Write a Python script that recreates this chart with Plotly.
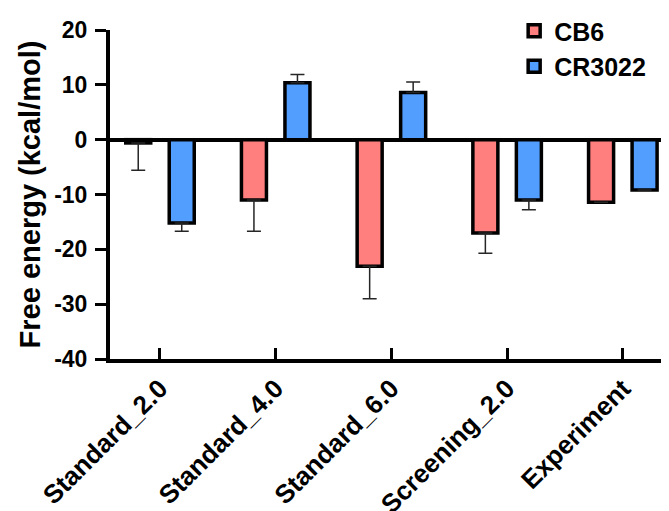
import plotly.graph_objects as go

categories = ["Standard_2.0", "Standard_4.0", "Standard_6.0", "Screening_2.0", "Experiment"]
cb6_values = [-0.6, -11.0, -23.1, -17.0, -11.4]
cb6_err = [5.0, 5.7, 5.9, 3.7, None]
cr3022_values = [-15.2, 10.4, 8.6, -11.0, -9.2]
cr3022_err = [1.5, 1.5, 1.9, 1.8, None]
y_ticks = [20, 10, 0, -10, -20, -30, -40]
y_ticktext = [str(v) for v in y_ticks]

FONT = "Arial, Liberation Sans, sans-serif"


def one_sided(values, errs):
    up, down = [], []
    for v, e in zip(values, errs):
        if e is None:
            up.append(None)
            down.append(None)
        elif v >= 0:
            up.append(e)
            down.append(0)
        else:
            up.append(0)
            down.append(e)
    return up, down


fig = go.Figure()
for name, vals, errs, color in [
    ("CB6", cb6_values, cb6_err, "#FF7F7F"),
    ("CR3022", cr3022_values, cr3022_err, "#529EFF"),
]:
    up, down = one_sided(vals, errs)
    fig.add_trace(go.Bar(
        name=name, x=categories, y=vals,
        marker=dict(color=color, line=dict(color="black", width=3.5)),
        error_y=dict(type="data", symmetric=False, array=up, arrayminus=down,
                     color="#262626", thickness=1.5, width=7),
    ))

# page body has an 8px default margin, so the figure is 8px smaller
fig.update_layout(
    width=661, height=503,
    margin=dict(l=102, r=0, t=15, b=152),
    paper_bgcolor="white", plot_bgcolor="white",
    barmode="group", bargap=0.248, bargroupgap=0.425,
    font=dict(family=FONT, color="black", weight="bold"),
    showlegend=True,
    legend=dict(x=0.723, y=1.068, xanchor="left", yanchor="top",
                font=dict(family=FONT, size=25, weight="bold"),
                bgcolor="rgba(0,0,0,0)", tracegroupgap=0),
)
fig.update_xaxes(
    type="category", range=[-0.432, 4.399], automargin=False,
    showline=True, linewidth=4, linecolor="black",
    ticks="inside", ticklen=11, tickwidth=3, tickcolor="black",
    tickangle=-45, tickfont=dict(family=FONT, size=26, weight="bold"),
    showgrid=False, zeroline=False,
)
fig.update_yaxes(
    range=[-40, 20], tickvals=y_ticks, ticktext=y_ticktext, automargin=False,
    showline=True, linewidth=4, linecolor="black",
    ticks="outside", ticklen=11, tickwidth=3, tickcolor="black",
    tickfont=dict(family=FONT, size=23, weight="bold"), ticklabelstandoff=3,
    showgrid=False, zeroline=True, zerolinewidth=3.5, zerolinecolor="black",
    title=dict(text="Free energy (kcal/mol)", font=dict(family=FONT, size=29, weight="bold"), standoff=6),
)

fig.write_html("out.html")
